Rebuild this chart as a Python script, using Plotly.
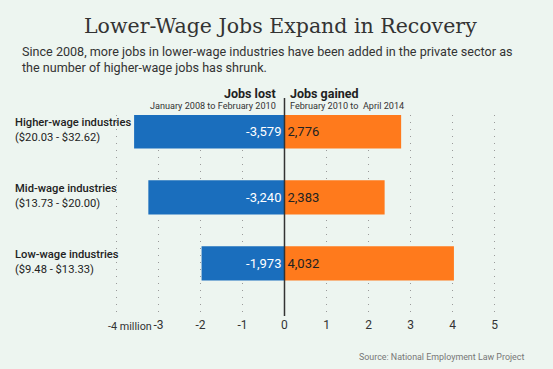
import plotly.graph_objects as go

categories = ["Higher-wage industries", "Mid-wage industries", "Low-wage industries"]
wage_ranges = ["($20.03 - $32.62)", "($13.73 - $20.00)", "($9.48 - $13.33)"]
jobs_lost = [-3579, -3240, -1973]          # thousands
jobs_gained = [2776, 2383, 4032]           # thousands
tick_vals = [-4, -3, -2, -1, 0, 1, 2, 3, 4, 5]
tick_text = ["-4 million", "-3", "-2", "-1", "0", "1", "2", "3", "4", "5"]

BG = "#edf5f0"
BLUE = "#1a6ebd"
ORANGE = "#ff7a1c"
FONT = "Roboto, sans-serif"

lost_m = [v / 1000 for v in jobs_lost]
gained_m = [v / 1000 for v in jobs_gained]

fig = go.Figure()
fig.add_trace(go.Bar(
    y=categories, x=lost_m, orientation="h", marker=dict(color=BLUE, line=dict(width=0)),
    width=0.52, text=[f"{v:,}" for v in jobs_lost], textposition="inside",
    insidetextanchor="start", textfont=dict(color="white", size=13, family=FONT),
    hoverinfo="skip",
))
fig.add_trace(go.Bar(
    y=categories, x=gained_m, orientation="h", marker=dict(color=ORANGE, line=dict(width=0)),
    width=0.52, text=[f"{v:,}" for v in jobs_gained], textposition="inside",
    insidetextanchor="start", textfont=dict(color="#222", size=13, family=FONT),
    hoverinfo="skip",
))

PW = 9.4 * 42
L = 108
R = 553 - L - PW
fig.update_layout(
    width=553, height=369, barmode="relative", bargap=0.4,
    margin=dict(l=L, r=R, t=115, b=369 - 316, pad=0),
    paper_bgcolor=BG, plot_bgcolor=BG, showlegend=False,
    font=dict(family=FONT, color="#333", size=12),
    xaxis=dict(range=[-4.2, 5.2], tickvals=tick_vals, ticktext=[""] + tick_text[1:],
               showgrid=True, gridcolor="#9a9a9a", griddash="1px,6px", gridwidth=1,
               zeroline=False, showline=False, ticks="", fixedrange=True,
               tickfont=dict(size=12, color="#333", family=FONT)),
    yaxis=dict(categoryorder="array", categoryarray=categories, range=[2.8, -0.25],
               showticklabels=False, showgrid=False, zeroline=False, ticks="", fixedrange=True),
)

# zero line
fig.add_shape(type="line", xref="x", yref="paper", x0=0, x1=0, y0=0, y1=1 + 17 / 201,
              line=dict(color="#333", width=1.5), layer="above")

def px_x(p):
    return (p - L) / PW

def px_y(p):
    return 1 + (115 - p) / 201

ann = []
ann.append(dict(text="Lower-Wage Jobs Expand in Recovery", xref="paper", yref="paper",
                x=px_x(280), y=px_y(26), xanchor="center", yanchor="middle",
                showarrow=False, font=dict(family="DejaVu Serif", size=20.5, color="#333")))
ann.append(dict(text="Since 2008, more jobs in lower-wage industries have been added in the private sector as<br>the number of higher-wage jobs has shrunk.",
                xref="paper", yref="paper", x=px_x(20), y=px_y(59.5),
                xanchor="left", yanchor="middle", align="left", showarrow=False,
                font=dict(size=12.6, color="#333", family=FONT)))
# column headers
ann.append(dict(text="<b>Jobs lost</b>", xref="x", yref="paper", x=0, xshift=-6,
                y=px_y(93), xanchor="right", yanchor="middle", showarrow=False,
                font=dict(size=12.5, color="#222", family=FONT)))
ann.append(dict(text="January 2008 to February 2010", xref="x", yref="paper", x=0, xshift=-6,
                y=px_y(106), xanchor="right", yanchor="middle", showarrow=False,
                font=dict(size=9.1, color="#333", family=FONT)))
ann.append(dict(text="<b>Jobs gained</b>", xref="x", yref="paper", x=0, xshift=4,
                y=px_y(93), xanchor="left", yanchor="middle", showarrow=False,
                font=dict(size=12.5, color="#222", family=FONT)))
ann.append(dict(text="February 2010 to  April 2014", xref="x", yref="paper", x=0, xshift=4,
                y=px_y(106), xanchor="left", yanchor="middle", showarrow=False,
                font=dict(size=9.1, color="#333", family=FONT)))
# category labels
for cat, rng in zip(categories, wage_ranges):
    ann.append(dict(text=f"<span style='font-weight:500'>{cat}</span><br>{rng}", xref="paper", yref="y",
                    x=px_x(13), y=cat, yshift=1, xanchor="left", yanchor="middle",
                    align="left", showarrow=False, font=dict(size=11.2, color="#222", family=FONT)))
# first tick label, left-aligned to its gridline like the reference
ann.append(dict(text=tick_text[0], xref="x", yref="paper", x=tick_vals[0], xshift=-10, y=0, yshift=-10,
                xanchor="left", yanchor="middle", showarrow=False,
                font=dict(size=10.8, color="#333", family=FONT)))
ann.append(dict(text="Source: National Employment Law Project", xref="paper", yref="paper",
                x=px_x(526), y=px_y(357), xanchor="right", yanchor="middle",
                showarrow=False, font=dict(size=8.9, color="#777", family=FONT)))
fig.update_layout(annotations=ann)

fig.write_html("out.html", config={"displayModeBar": False},
               post_script="document.body.style.margin='0';")
